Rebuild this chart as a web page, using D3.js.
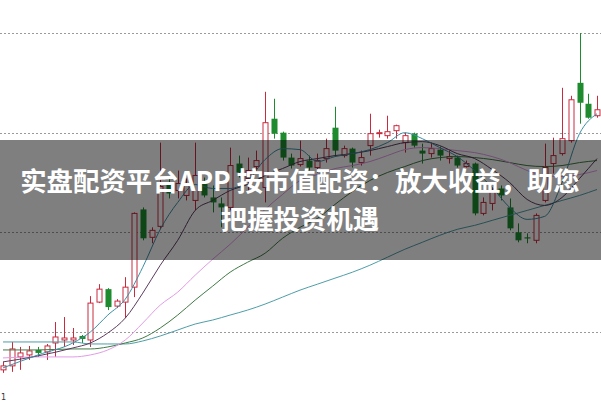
<!DOCTYPE html>
<html><head><meta charset="utf-8">
<script src="https://cdn.jsdelivr.net/npm/d3@7"></script>
<style>html,body{margin:0;padding:0;background:#fff;overflow:hidden}</style>
</head><body><svg id="c" width="601" height="401"></svg>
<script>
// ---- data (price units) ----
const opens  = [6.2,6.6,7.5,7.7,8.2,8.0,8.9,9.2,9.2,9.6,
                9.2,13.0,14.3,12.6,13.0,14.5,22.3,19.5,20.6,24.9,
                24.2,23.7,23.2,24.9,23.5,22.9,22.5,26.9,25.4,26.6,
                24.5,31.4,30.0,27.5,26.8,27.2,26.5,27.4,30.5,27.7,
                28.4,27.0,28.7,29.9,29.7,30.2,29.0,29.9,28.2,27.9,
                28.3,27.4,27.5,26.6,26.9,21.9,22.9,24.4,22.5,20.0,
                19.5,19.2,23.2,26.9,27.9,29.2,35.0,32.9,31.7];
const closes = [6.6,8.3,7.9,8.1,7.9,8.6,9.5,9.4,9.4,9.3,
                12.9,14.3,12.5,13.1,14.5,21.9,19.4,20.2,24.6,23.9,
                24.9,24.7,25.7,23.7,23.0,22.5,26.7,26.0,26.2,27.2,
                31.0,29.9,27.5,26.7,27.4,26.5,27.2,28.4,28.2,28.4,
                27.0,27.5,29.9,30.0,30.1,30.7,29.7,28.7,27.9,28.4,
                27.7,27.6,26.7,26.9,21.9,23.0,24.2,23.7,20.4,19.2,
                19.4,21.7,26.5,27.7,29.4,33.3,33.0,31.5,32.3];
const highs  = [7.0,9.0,8.5,8.6,8.5,8.8,11.0,11.5,10.4,9.7,
                13.6,14.8,14.4,13.3,15.5,22.0,22.5,20.5,29.0,25.6,
                26.2,25.4,29.0,25.5,24.7,23.5,28.5,27.7,27.5,28.2,
                34.1,33.4,30.1,27.9,29.2,27.7,27.9,29.4,32.6,28.7,
                28.5,28.2,31.9,30.3,31.7,30.8,30.0,30.0,28.9,29.0,
                28.6,28.2,27.7,27.2,27.0,23.5,24.5,24.7,23.4,20.9,
                19.9,21.9,28.9,29.5,34.5,33.7,40.0,33.9,33.7];
const lows   = [5.9,6.0,6.2,7.2,7.5,7.2,7.5,8.5,8.7,8.9,
                8.5,12.9,12.2,12.4,11.4,13.5,19.2,18.9,20.3,23.4,
                23.4,23.2,22.2,23.5,22.0,20.5,22.2,25.5,24.2,26.0,
                23.0,29.4,27.2,26.4,26.6,26.2,26.0,27.0,27.7,27.5,
                26.5,26.7,27.7,29.5,29.4,29.4,28.0,28.5,26.9,27.5,
                27.2,26.9,26.5,26.5,21.7,21.7,22.2,23.2,20.2,19.0,
                18.9,18.9,23.0,25.9,27.7,29.0,30.9,31.4,31.5];

const maIndex = [0,4,8,10,12,14,16,18,20,22,24,26,28,30,32,34,36,38,40,42,44,46,48,50,52,54,56,58,60,62,64,66,68];
const ma5  = [6.4,7.7,8.9,10.0,11.7,13.3,16.5,20.3,23.0,24.8,24.4,24.4,25.2,27.3,28.4,28.3,27.1,27.6,27.9,28.3,29.0,30.0,29.4,28.5,27.6,26.2,24.5,22.5,21.3,21.6,25.0,29.9,31.9];
const ma10 = [7.0,7.6,8.4,8.9,9.9,11.4,13.9,16.7,19.2,22.2,23.2,24.2,24.8,25.7,26.4,27.1,27.4,27.7,27.9,28.2,28.6,29.0,29.1,28.7,27.9,27.4,26.3,25.0,23.3,22.7,23.5,25.4,27.4];
const ma20 = [7.4,7.5,7.5,7.7,8.2,9.2,10.9,12.7,14.0,15.7,17.3,18.8,20.5,22.3,23.8,25.2,25.8,26.4,26.7,27.1,27.7,28.3,28.5,28.4,28.2,28.0,27.6,27.0,26.2,25.7,25.6,25.8,26.2];
const ma30 = [8.2,8.2,8.3,8.3,8.5,8.9,9.4,10.4,11.7,13.2,14.6,16.0,17.0,17.9,19.4,20.5,21.4,22.8,24.1,25.2,26.0,26.6,27.2,27.5,27.6,27.5,27.3,27.0,26.7,26.6,26.7,27.0,27.2];
const ma60 = [9.0,9.0,9.0,8.8,8.8,8.8,9.1,9.6,10.2,10.8,11.2,11.7,12.2,12.8,13.5,14.2,14.8,15.4,16.0,16.7,17.5,18.3,19.0,19.7,20.3,20.7,21.2,21.7,22.2,22.7,23.2,23.7,24.3];

const gridTicks = [10,20,30,40];
const titleLines = ["实盘配资平台APP 按市值配资：放大收益，助您","把握投资机遇"];

// ---- drawing ----
const svg = d3.select("#c");
const W = 601, H = 401;
const x = d3.scaleLinear().domain([0, opens.length-1]).range([3, 597]);
const y = d3.scaleLinear().domain([10, 40]).range([332, 33]);
const RED = "#c92a3e", GREEN = "#1e8c2e";

svg.append("rect").attr("width",W).attr("height",H).attr("fill","#fff");

svg.append("g").selectAll("line").data(gridTicks).join("line")
  .attr("x1",0).attr("x2",W)
  .attr("y1",d=>Math.round(y(d))+0.5).attr("y2",d=>Math.round(y(d))+0.5)
  .attr("stroke","#9a9a9a").attr("stroke-width",1).attr("stroke-dasharray","2,2");

const idx = d3.range(opens.length);
const cg = svg.append("g");
idx.forEach(i=>{
  const up = closes[i] >= opens[i];
  const col = up ? RED : GREEN;
  const cx = Math.round(x(i)) + 0.5;
  cg.append("line").attr("x1",cx).attr("x2",cx)
    .attr("y1",y(highs[i])).attr("y2",y(lows[i]))
    .attr("stroke",col).attr("stroke-width",1);
  const top = y(Math.max(opens[i],closes[i]));
  const bot = y(Math.min(opens[i],closes[i]));
  const h = Math.max(1, bot-top);
  if (up) {
    cg.append("rect").attr("x",cx-2.5).attr("y",top).attr("width",5).attr("height",h)
      .attr("fill","#fff").attr("stroke",col).attr("stroke-width",1);
  } else {
    cg.append("rect").attr("x",cx-3).attr("y",top).attr("width",6).attr("height",Math.max(1.2,h))
      .attr("fill",col);
  }
});

const line = d3.line().x((d,k)=>x(maIndex[k])).y(d=>y(d)).curve(d3.curveMonotoneX);
[[ma60,"#4e9ea8"],[ma30,"#3f7a44"],[ma20,"#e29be6"],[ma10,"#5b3a5e"],[ma5,"#3c8fa6"]].forEach(([s,c])=>{
  svg.append("path").datum(s).attr("d",line).attr("fill","none")
    .attr("stroke",c).attr("stroke-width",1);
});

svg.append("text").attr("x",1).attr("y",400).attr("font-size",8)
  .attr("font-family","DejaVu Sans").attr("fill","#333").text("1");

svg.append("rect").attr("x",0).attr("y",140).attr("width",W).attr("height",120)
  .attr("fill","#000").attr("fill-opacity",0.5);

svg.append("g").selectAll("text").data(titleLines).join("text")
  .attr("x",300).attr("y",(d,k)=>191 + k*38)
  .attr("text-anchor","middle")
  .attr("font-family","'Noto Sans CJK SC','Noto Sans',sans-serif")
  .attr("font-weight","bold").attr("font-size",26.4)
  .attr("fill","#fff").text(d=>d);
</script>
</body></html>
